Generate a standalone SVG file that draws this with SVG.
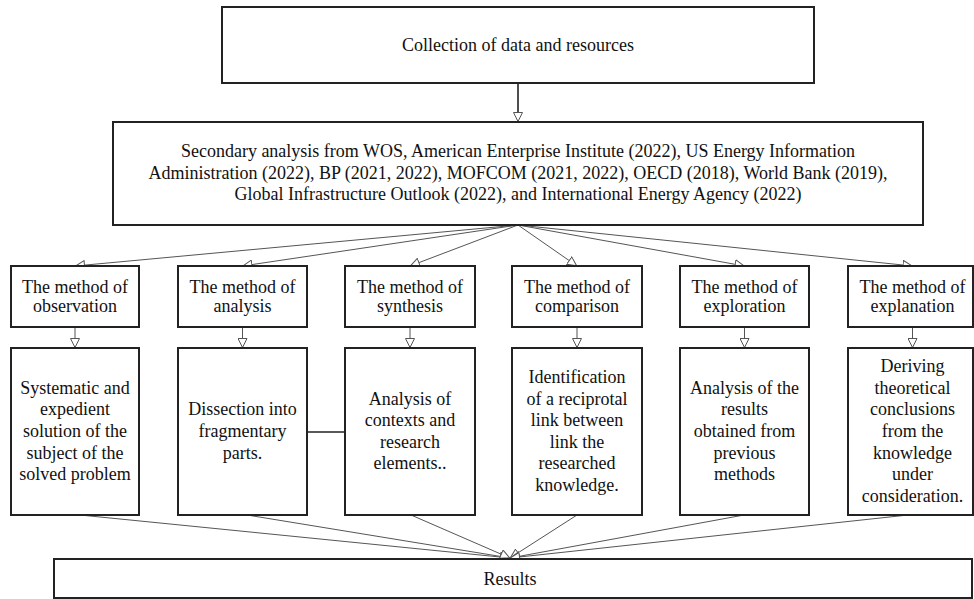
<svg xmlns="http://www.w3.org/2000/svg" width="974" height="599" viewBox="0 0 974 599">
<defs>
<marker id="open" viewBox="0 0 10 10" refX="10" refY="5" markerWidth="10" markerHeight="10" markerUnits="userSpaceOnUse" orient="auto">
<path d="M0.5,0.5 L9.5,5 L0.5,9.5 Z" fill="#fff" stroke="#555" stroke-width="1"/>
</marker>
</defs>
<style>
.box{fill:#fff;stroke:#222;stroke-width:2}
.t{font-family:"Liberation Serif","Times New Roman",serif;font-size:18px;fill:#111;text-anchor:middle}
.fan{stroke:#555;stroke-width:1;fill:none}
.dark{stroke:#222;stroke-width:1.6;fill:none}
</style>
<rect width="974" height="599" fill="#fff"/>
<g id="connectors">
<line class="dark" x1="518" y1="83" x2="518" y2="112"/>
<line class="fan" x1="518" y1="112" x2="518" y2="122" marker-end="url(#open)"/>
<line class="fan" x1="518" y1="225" x2="75" y2="266" marker-end="url(#open)"/>
<line class="fan" x1="518" y1="225" x2="242.5" y2="266" marker-end="url(#open)"/>
<line class="fan" x1="518" y1="225" x2="410" y2="266" marker-end="url(#open)"/>
<line class="fan" x1="518" y1="225" x2="577" y2="266" marker-end="url(#open)"/>
<line class="fan" x1="518" y1="225" x2="744.5" y2="266" marker-end="url(#open)"/>
<line class="fan" x1="518" y1="225" x2="912.5" y2="266" marker-end="url(#open)"/>
<line class="fan" x1="75" y1="327" x2="75" y2="348" marker-end="url(#open)"/>
<line class="fan" x1="242.5" y1="327" x2="242.5" y2="348" marker-end="url(#open)"/>
<line class="fan" x1="410" y1="327" x2="410" y2="348" marker-end="url(#open)"/>
<line class="fan" x1="577" y1="327" x2="577" y2="348" marker-end="url(#open)"/>
<line class="fan" x1="744.5" y1="327" x2="744.5" y2="348" marker-end="url(#open)"/>
<line class="fan" x1="912.5" y1="327" x2="912.5" y2="348" marker-end="url(#open)"/>
<line class="dark" x1="307" y1="432" x2="345" y2="432"/>
<line class="fan" x1="80" y1="515" x2="510" y2="558" marker-end="url(#open)"/>
<line class="fan" x1="247" y1="515" x2="510" y2="558" marker-end="url(#open)"/>
<line class="fan" x1="411" y1="515" x2="510" y2="558" marker-end="url(#open)"/>
<line class="fan" x1="577" y1="515" x2="510" y2="558" marker-end="url(#open)"/>
<line class="fan" x1="744" y1="515" x2="510" y2="558" marker-end="url(#open)"/>
<line class="fan" x1="908" y1="515" x2="510" y2="558" marker-end="url(#open)"/>
</g>
<g id="collection">
<rect class="box" x="222" y="7" width="592" height="76"/>
<text class="t" x="518" y="51">Collection of data and resources</text>
</g>
<g id="secondary">
<rect class="box" x="113" y="122" width="810" height="103"/>
<text class="t" x="518" y="157">Secondary analysis from WOS, American Enterprise Institute (2022), US Energy Information</text>
<text class="t" x="518" y="178.5">Administration (2022), BP (2021, 2022), MOFCOM (2021, 2022), OECD (2018), World Bank (2019),</text>
<text class="t" x="518" y="200">Global Infrastructure Outlook (2022), and International Energy Agency (2022)</text>
</g>
<g id="m-observation">
<rect class="box" x="11" y="266" width="128" height="61"/>
<text class="t" x="75" y="293">The method of</text>
<text class="t" x="75" y="312">observation</text>
</g>
<g id="m-analysis">
<rect class="box" x="178" y="266" width="129" height="61"/>
<text class="t" x="242.5" y="293">The method of</text>
<text class="t" x="242.5" y="312">analysis</text>
</g>
<g id="m-synthesis">
<rect class="box" x="345" y="266" width="130" height="61"/>
<text class="t" x="410" y="293">The method of</text>
<text class="t" x="410" y="312">synthesis</text>
</g>
<g id="m-comparison">
<rect class="box" x="512" y="266" width="130" height="61"/>
<text class="t" x="577" y="293">The method of</text>
<text class="t" x="577" y="312">comparison</text>
</g>
<g id="m-exploration">
<rect class="box" x="680" y="266" width="129" height="61"/>
<text class="t" x="744.5" y="293">The method of</text>
<text class="t" x="744.5" y="312">exploration</text>
</g>
<g id="m-explanation">
<rect class="box" x="848" y="266" width="125" height="61"/>
<text class="t" x="912.5" y="293">The method of</text>
<text class="t" x="912.5" y="312">explanation</text>
</g>
<g id="d-observation">
<rect class="box" x="11" y="348" width="128" height="167"/>
<text class="t" x="75" y="393.8">Systematic and</text>
<text class="t" x="75" y="415.4">expedient</text>
<text class="t" x="75" y="437">solution of the</text>
<text class="t" x="75" y="458.6">subject of the</text>
<text class="t" x="75" y="480.2">solved problem</text>
</g>
<g id="d-analysis">
<rect class="box" x="178" y="348" width="129" height="167"/>
<text class="t" x="242.5" y="415.4">Dissection into</text>
<text class="t" x="242.5" y="437">fragmentary</text>
<text class="t" x="242.5" y="458.6">parts.</text>
</g>
<g id="d-synthesis">
<rect class="box" x="345" y="348" width="130" height="167"/>
<text class="t" x="410" y="404.6">Analysis of</text>
<text class="t" x="410" y="426.2">contexts and</text>
<text class="t" x="410" y="447.8">research</text>
<text class="t" x="410" y="469.4">elements..</text>
</g>
<g id="d-comparison">
<rect class="box" x="512" y="348" width="130" height="167"/>
<text class="t" x="577" y="383">Identification</text>
<text class="t" x="577" y="404.6">of a reciprotal</text>
<text class="t" x="577" y="426.2">link between</text>
<text class="t" x="577" y="447.8">link the</text>
<text class="t" x="577" y="469.4">researched</text>
<text class="t" x="577" y="491">knowledge.</text>
</g>
<g id="d-exploration">
<rect class="box" x="680" y="348" width="129" height="167"/>
<text class="t" x="744.5" y="393.8">Analysis of the</text>
<text class="t" x="744.5" y="415.4">results</text>
<text class="t" x="744.5" y="437">obtained from</text>
<text class="t" x="744.5" y="458.6">previous</text>
<text class="t" x="744.5" y="480.2">methods</text>
</g>
<g id="d-explanation">
<rect class="box" x="848" y="348" width="125" height="167"/>
<text class="t" x="912.5" y="372.2">Deriving</text>
<text class="t" x="912.5" y="393.8">theoretical</text>
<text class="t" x="912.5" y="415.4">conclusions</text>
<text class="t" x="912.5" y="437">from the</text>
<text class="t" x="912.5" y="458.6">knowledge</text>
<text class="t" x="912.5" y="480.2">under</text>
<text class="t" x="912.5" y="501.8">consideration.</text>
</g>
<g id="results">
<rect class="box" x="54" y="559" width="918" height="39"/>
<text class="t" x="510" y="585">Results</text>
</g>
</svg>
